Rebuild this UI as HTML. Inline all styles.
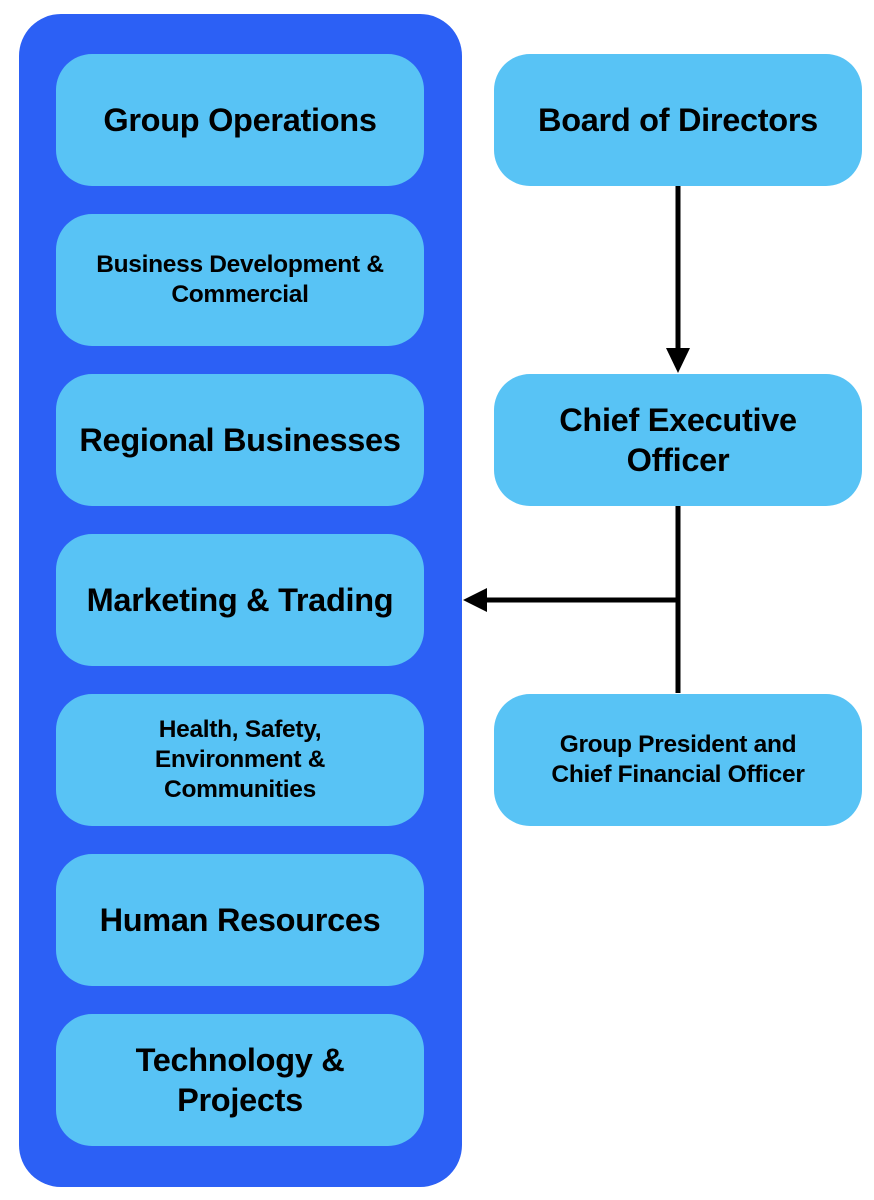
<!DOCTYPE html>
<html><head><style>
body{margin:0;width:874px;height:1200px;background:#fff;position:relative;overflow:hidden;font-family:"Liberation Sans",sans-serif;}
.c{position:absolute;left:19px;top:14px;width:443px;height:1173px;background:#2c60f5;border-radius:42px;}
.b{position:absolute;width:368px;height:132px;background:#58c3f5;border-radius:36px;display:flex;align-items:center;justify-content:center;text-align:center;font-weight:bold;color:#000;}
.l{left:56px}.r{left:494px}
.big{font-size:32.5px;line-height:40px;letter-spacing:-0.3px}
.sm{font-size:24.5px;line-height:30px;letter-spacing:-0.3px}
</style></head><body>
<div class="c"></div>
<div class="b l big" style="top:54px">Group Operations</div>
<div class="b l sm" style="top:214px">Business Development &amp;<br>Commercial</div>
<div class="b l big" style="top:374px">Regional Businesses</div>
<div class="b l big" style="top:534px">Marketing &amp; Trading</div>
<div class="b l sm" style="top:694px">Health, Safety,<br>Environment &amp;<br>Communities</div>
<div class="b l big" style="top:854px">Human Resources</div>
<div class="b l big" style="top:1014px">Technology &amp;<br>Projects</div>
<div class="b r big" style="top:54px">Board of Directors</div>
<div class="b r big" style="top:374px">Chief Executive<br>Officer</div>
<div class="b r sm" style="top:694px">Group President and<br>Chief Financial Officer</div>
<svg style="position:absolute;left:0;top:0" width="874" height="1200">
<line x1="678" y1="186" x2="678" y2="350" stroke="#000" stroke-width="5"/>
<polygon points="666,348 690,348 678,373" fill="#000"/>
<line x1="678" y1="506" x2="678" y2="693" stroke="#000" stroke-width="5"/>
<line x1="678" y1="600" x2="485" y2="600" stroke="#000" stroke-width="5"/>
<polygon points="487,588 487,612 463,600" fill="#000"/>
</svg>
</body></html>
